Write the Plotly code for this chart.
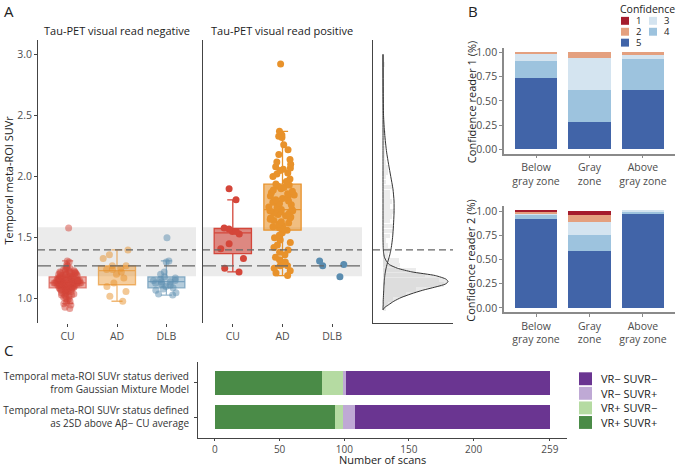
import plotly.graph_objects as go

W, H = 676, 468
FONT = "Open Sans"

# ---------------- panel A: temporal meta-ROI SUVr by visual read / diagnosis
groups = ["CU", "AD", "DLB"]

neg_cu = [
    0.92, 0.93, 0.95, 0.96, 0.97, 0.98, 0.99, 1.00, 1.00, 1.01,
    1.02, 1.02, 1.03, 1.03, 1.04, 1.04, 1.05, 1.05, 1.05, 1.06,
    1.06, 1.06, 1.07, 1.07, 1.07, 1.07, 1.08, 1.08, 1.08, 1.08,
    1.09, 1.09, 1.09, 1.09, 1.10, 1.10, 1.10, 1.10, 1.10, 1.11,
    1.11, 1.11, 1.11, 1.11, 1.12, 1.12, 1.12, 1.12, 1.12, 1.12,
    1.12, 1.13, 1.13, 1.13, 1.13, 1.13, 1.13, 1.13, 1.13, 1.13,
    1.13, 1.13, 1.13, 1.14, 1.14, 1.14, 1.14, 1.14, 1.14, 1.14,
    1.15, 1.15, 1.15, 1.15, 1.15, 1.15, 1.15, 1.16, 1.16, 1.16,
    1.16, 1.16, 1.16, 1.17, 1.17, 1.17, 1.17, 1.17, 1.18, 1.18,
    1.18, 1.18, 1.18, 1.19, 1.19, 1.19, 1.19, 1.19, 1.20, 1.20,
    1.20, 1.20, 1.21, 1.21, 1.21, 1.21, 1.22, 1.22, 1.22, 1.23,
    1.23, 1.23, 1.24, 1.24, 1.25, 1.25, 1.26, 1.27, 1.28, 1.30,
    1.31, 1.58,
]
neg_ad = [0.98, 1.02, 1.06, 1.10, 1.13, 1.17, 1.20, 1.22,
          1.24, 1.24, 1.25, 1.27, 1.27, 1.33, 1.36, 1.40]
neg_dlb = [1.03, 1.04, 1.05, 1.07, 1.08, 1.09, 1.10, 1.11, 1.12, 1.13, 1.14,
           1.14, 1.15, 1.15, 1.16, 1.17, 1.18, 1.20, 1.22, 1.30, 1.31, 1.50]

pos_cu = [1.22, 1.25, 1.33, 1.41, 1.45, 1.53, 1.55, 1.55, 1.57, 1.58, 1.81, 1.90]
pos_ad = [
    1.19, 1.21, 1.23, 1.25, 1.27, 1.27, 1.28, 1.30, 1.32, 1.34,
    1.36, 1.38, 1.40, 1.42, 1.44, 1.46, 1.48, 1.50, 1.52, 1.54,
    1.56, 1.57, 1.58, 1.59, 1.60, 1.61, 1.62, 1.63, 1.64, 1.65,
    1.66, 1.66, 1.67, 1.68, 1.69, 1.70, 1.70, 1.71, 1.72, 1.72,
    1.73, 1.73, 1.74, 1.75, 1.76, 1.77, 1.78, 1.79, 1.80, 1.81,
    1.82, 1.83, 1.84, 1.85, 1.86, 1.87, 1.88, 1.89, 1.90, 1.91,
    1.92, 1.93, 1.94, 1.96, 1.98, 2.00, 2.02, 2.03, 2.05, 2.06,
    2.07, 2.08, 2.10, 2.12, 2.14, 2.18, 2.22, 2.26, 2.32, 2.33,
    2.34, 2.37, 2.92,
]
pos_dlb = [1.18, 1.27, 1.28, 1.31]

gray_zone_low, gray_zone_high = 1.185, 1.585
cutoff_gmm = 1.40
cutoff_2sd = 1.27

# Gaussian mixture components
gmm_suvr = [0.91, 0.93, 0.95, 0.98, 1.01, 1.04, 1.07, 1.10, 1.12, 1.14, 1.16,
            1.19, 1.22, 1.25, 1.28, 1.31, 1.34, 1.38, 1.42, 1.50, 1.60, 1.70,
            1.80, 1.90, 2.00, 2.10, 2.20, 2.35, 2.50, 2.70, 3.00]
gmm_low = [0.0, 0.1, 0.3, 0.6, 1.0, 1.55, 2.2, 3.0, 3.45, 3.6, 3.5,
           2.9, 1.6, 0.8, 0.35, 0.18, 0.08, 0.03, 0.01, 0.0, 0.0, 0.0,
           0.0, 0.0, 0.0, 0.0, 0.0, 0.0, 0.0, 0.0, 0.0]
gmm_high = [0.0, 0.0, 0.01, 0.01, 0.02, 0.03, 0.04, 0.05, 0.06, 0.07, 0.08,
            0.10, 0.13, 0.17, 0.22, 0.28, 0.34, 0.41, 0.46, 0.53, 0.58, 0.61,
            0.61, 0.55, 0.43, 0.31, 0.20, 0.09, 0.03, 0.01, 0.0]

# ---------------- panel B: confidence of the two readers by SUVr zone
zones = ["Below<br>gray zone", "Gray<br>zone", "Above<br>gray zone"]
conf_levels = ["5", "4", "3", "2", "1"]
r1_conf5 = [0.735, 0.285, 0.61]
r1_conf4 = [0.18, 0.325, 0.325]
r1_conf3 = [0.075, 0.33, 0.048]
r1_conf2 = [0.01, 0.06, 0.017]
r1_conf1 = [0.0, 0.0, 0.0]
r2_conf5 = [0.918, 0.588, 0.97]
r2_conf4 = [0.04, 0.17, 0.02]
r2_conf3 = [0.015, 0.126, 0.01]
r2_conf2 = [0.017, 0.078, 0.0]
r2_conf1 = [0.01, 0.038, 0.0]

# ---------------- panel C: agreement of visual read and SUVr status
status_rows = ["Temporal meta-ROI SUVr status derived<br>from Gaussian Mixture Model",
               "Temporal meta-ROI SUVr status defined<br>as 2SD above A\u03b2\u2212 CU average"]
vrpos_suvrpos = [83, 93]
vrpos_suvrneg = [16, 6]
vrneg_suvrpos = [2, 9]
vrneg_suvrneg = [158, 151]
scan_ticks = [0, 50, 100, 150, 200, 259]

group_colors = {"CU": "212,70,58", "AD": "232,146,43", "DLB": "91,141,176"}
conf_colors = {"1": "#A51C2D", "2": "#E4A07F", "3": "#D4E4F0", "4": "#9DC3DE", "5": "#4164A8"}
status_colors = ["#4A8B47", "#B5DBA2", "#BFA9D5", "#6A3591"]
status_names = ["VR+ SUVR+", "VR+ SUVR\u2212", "VR\u2212 SUVR+", "VR\u2212 SUVR\u2212"]


def fx(px):
    return px / W


def fy(px):
    return 1 - px / H


fig = go.Figure()

# panel A boxes
for xa, ya, data, faint in [("x", "y", [neg_cu, neg_ad, neg_dlb], True),
                            ("x2", "y2", [pos_cu, pos_ad, pos_dlb], False)]:
    for g, vals in zip(groups, data):
        c = group_colors[g]
        hide_box = (not faint) and g == "DLB"
        fig.add_trace(go.Box(
            x=[g] * len(vals), y=vals, xaxis=xa, yaxis=ya,
            boxpoints="all", jitter=0.8, pointpos=0, width=0.75, whiskerwidth=0.3,
            fillcolor="rgba(0,0,0,0)" if hide_box else f"rgba({c},{0.45 if faint else 0.6})",
            line=dict(color="rgba(0,0,0,0)" if hide_box else f"rgba({c},{0.65 if faint else 1})", width=1.3),
            marker=dict(color=f"rgb({c})", size=7, opacity=0.5 if faint else 1, line=dict(width=0)),
            showlegend=False, hoverinfo="y",
        ))

# side panel: histogram of all scans plus the two mixture components
all_suvr = neg_cu + neg_ad + neg_dlb + pos_cu + pos_ad + pos_dlb
fig.add_trace(go.Histogram(
    y=all_suvr, histnorm="probability density", xaxis="x3", yaxis="y3",
    ybins=dict(start=0.895, end=3.0, size=0.04),
    marker=dict(color="#ececec", line=dict(width=0)), showlegend=False,
))
fig.add_trace(go.Scatter(
    x=gmm_low, y=gmm_suvr, xaxis="x3", yaxis="y3", mode="lines",
    line=dict(color="#333333", width=1, shape="spline", smoothing=0.6),
    fill="tozerox", fillcolor="rgba(205,205,205,0.45)", showlegend=False,
))
fig.add_trace(go.Scatter(
    x=gmm_high, y=gmm_suvr, xaxis="x3", yaxis="y3", mode="lines",
    line=dict(color="#333333", width=1, shape="spline", smoothing=0.6), showlegend=False,
))

# panel B stacked bars
for xa, ya, stacks in [("x4", "y4", [r1_conf5, r1_conf4, r1_conf3, r1_conf2, r1_conf1]),
                       ("x5", "y5", [r2_conf5, r2_conf4, r2_conf3, r2_conf2, r2_conf1])]:
    for lvl, vals in zip(conf_levels, stacks):
        fig.add_trace(go.Bar(
            x=zones, y=vals, xaxis=xa, yaxis=ya, width=0.79,
            marker=dict(color=conf_colors[lvl], line=dict(width=0)),
            name=lvl, showlegend=False,
        ))

# panel C stacked horizontal bars
for vals, col, nm in zip([vrpos_suvrpos, vrpos_suvrneg, vrneg_suvrpos, vrneg_suvrneg],
                         status_colors, status_names):
    fig.add_trace(go.Bar(
        y=status_rows, x=vals, orientation="h", xaxis="x6", yaxis="y6", width=0.69,
        marker=dict(color=col, line=dict(width=0)), name=nm, showlegend=False,
    ))

axis_line = dict(showline=True, linecolor="#444444", linewidth=1, showgrid=False, zeroline=False)
tick_font = dict(family=FONT, size=10.5, color="#4d4d4d")
cat_x = dict(type="category", categoryorder="array", categoryarray=groups, range=[-0.6, 2.6],
             ticks="outside", ticklen=3, tickcolor="#444444", tickfont=tick_font,
             showgrid=False, zeroline=False, showline=False)
ya_dom = [fy(324), fy(38)]
yA = dict(range=[0.8, 3.12], domain=ya_dom, **axis_line)

b_line = dict(showline=True, linecolor="#8a8a8a", linewidth=1.5, showgrid=False, zeroline=False)
b_x = dict(type="category", categoryorder="array", categoryarray=zones, range=[-0.6, 2.6],
           domain=[fx(504), fx(675)], ticks="outside", ticklen=3, tickcolor="#8a8a8a",
           tickfont=tick_font, **b_line)
b_y = dict(range=[-0.045, 1.05], tickvals=[0, 0.25, 0.5, 0.75, 1], tickformat=".2f",
           ticks="outside", ticklen=3, tickcolor="#8a8a8a", tickfont=tick_font, **b_line)

fig.update_layout(
    width=W, height=H, margin=dict(l=0, r=0, t=0, b=0),
    paper_bgcolor="white", plot_bgcolor="white",
    font=dict(family=FONT, size=11, color="#222222"),
    barmode="stack", bargap=0.05, boxmode="overlay",
    xaxis=dict(domain=[fx(38), fx(196)], anchor="y", **cat_x),
    yaxis=dict(anchor="x", tickvals=[1, 1.5, 2, 2.5, 3], tickformat=".1f", ticks="outside",
               ticklen=3, tickcolor="#444444", tickfont=tick_font, **yA),
    xaxis2=dict(domain=[fx(203), fx(362)], anchor="y2", **cat_x),
    yaxis2=dict(anchor="x2", matches="y", showticklabels=False, ticks="", **yA),
    xaxis3=dict(domain=[fx(373), fx(453)], anchor="y3", range=[-0.554, 3.877],
                showticklabels=False, ticks="", **axis_line),
    yaxis3=dict(anchor="x3", matches="y", showticklabels=False, ticks="", **yA),
    xaxis4=dict(anchor="y4", **b_x),
    yaxis4=dict(anchor="x4", domain=[fy(153), fy(46)], **b_y),
    xaxis5=dict(anchor="y5", **b_x),
    yaxis5=dict(anchor="x5", domain=[fy(313), fy(206)], **b_y),
    xaxis6=dict(anchor="y6", domain=[fx(198), fx(567)], range=[-13.1, 272.2], tickvals=scan_ticks,
                ticks="outside", ticklen=2, tickcolor="#444444",
                tickfont=dict(family=FONT, size=10, color="#4d4d4d"), **axis_line),
    yaxis6=dict(anchor="x6", domain=[fy(440), fy(363)], type="category", categoryorder="array",
                categoryarray=status_rows, range=[1.6, -0.6], ticks="outside", ticklen=3,
                ticklabelstandoff=3, tickcolor="#444444",
                tickfont=dict(family=FONT, size=10, color="#333333"), **axis_line),
)

shapes = []
# gray zone + cut-offs in panel A
for xa in ["x", "x2"]:
    shapes.append(dict(type="rect", xref=f"{xa} domain", yref="y", x0=0, x1=1,
                       y0=gray_zone_low, y1=gray_zone_high, fillcolor="#ebebeb",
                       line=dict(width=0), layer="below"))
    shapes.append(dict(type="line", xref=f"{xa} domain", yref="y", x0=0, x1=1,
                       y0=cutoff_2sd, y1=cutoff_2sd, line=dict(color="#666666", width=1.2, dash="13px,5px")))
for xa in ["x", "x2", "x3"]:
    shapes.append(dict(type="line", xref=f"{xa} domain", yref="y", x0=0, x1=1,
                       y0=cutoff_gmm, y1=cutoff_gmm, line=dict(color="#666666", width=1.2, dash="7px,4px")))

annotations = []


def text(s, x, y, size=11, xanchor="center", angle=0, color="#222222"):
    annotations.append(dict(text=s, x=fx(x), y=fy(y), xref="paper", yref="paper",
                            xanchor=xanchor, yanchor="middle", showarrow=False, textangle=angle,
                            font=dict(family=FONT, size=size, color=color)))


text("A", 2, 9, size=15, xanchor="left")
text("B", 466, 9, size=15, xanchor="left")
text("C", 2, 351, size=15, xanchor="left")
text("Tau-PET visual read negative", 117, 29)
text("Tau-PET visual read positive", 282, 29)
text("Temporal meta-ROI SUVr", 8, 180, angle=-90)
text("Confidence reader 1 (%)", 471, 100, angle=-90)
text("Confidence reader 2 (%)", 471, 260, angle=-90)
text("Number of scans", 382, 461.5)

# legend for panel B (two columns: 1 3 / 2 4 / 5)
text("Confidence", 618, 7, size=10.5, xanchor="left")
b_slots = {"1": (621, 19), "3": (649, 19), "2": (621, 30), "4": (649, 30), "5": (621, 41)}
for lvl, (sx, sy) in b_slots.items():
    shapes.append(dict(type="rect", xref="paper", yref="paper", x0=fx(sx), x1=fx(sx + 8),
                       y0=fy(sy + 4), y1=fy(sy - 4), fillcolor=conf_colors[lvl], line=dict(width=0)))
    text(lvl, sx + 13, sy, size=9.5, xanchor="left")

# legend for panel C
for i, (col, nm) in enumerate(zip(status_colors[::-1], status_names[::-1])):
    cy = 380 + i * 14.7
    shapes.append(dict(type="rect", xref="paper", yref="paper", x0=fx(579), x1=fx(592),
                       y0=fy(cy + 6.5), y1=fy(cy - 6.5), fillcolor=col, line=dict(width=0)))
    text(nm, 599, cy, size=11, xanchor="left")

fig.update_layout(shapes=shapes, annotations=annotations)
# the page body has a default 8px margin; drop it so the figure fills the window
fig.write_html("out.html", config={"displayModeBar": False},
               post_script="document.body.style.margin='0px';")
